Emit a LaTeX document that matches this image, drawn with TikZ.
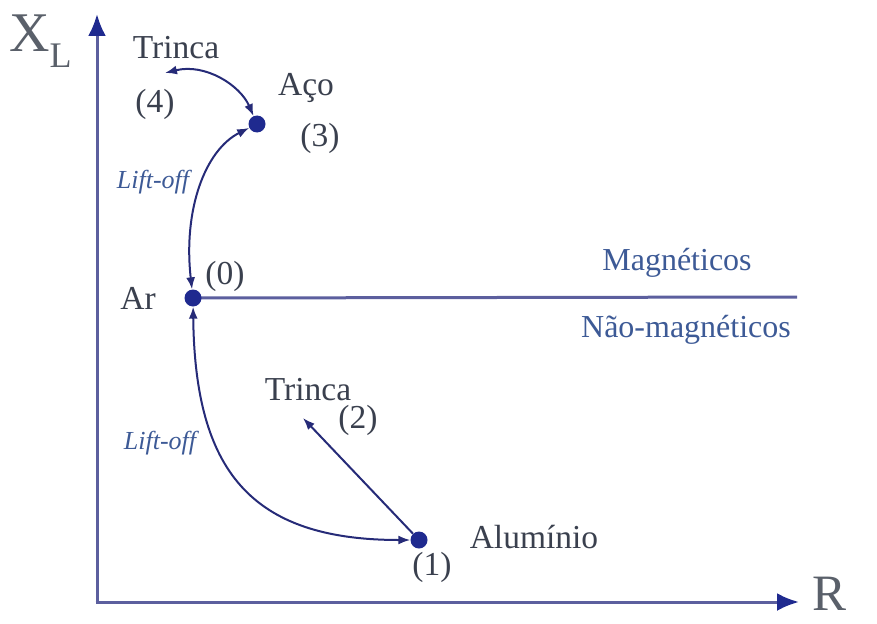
\documentclass[tikz,border=0pt]{standalone}
\usepackage{fontspec}
\setmainfont{Liberation Serif}
\usetikzlibrary{arrows.meta}
\definecolor{textdark}{HTML}{3A404E}
\definecolor{textblue}{HTML}{3D5A96}
\definecolor{axiscol}{HTML}{5C5F9E}
\definecolor{navy}{HTML}{262B78}
\definecolor{dotcol}{HTML}{1F2A8F}
\definecolor{axlabel}{HTML}{5A606A}
\tikzset{
  lbl/.style={inner sep=0pt, text=textdark, font=\fontsize{33.5}{38}\selectfont},
  bluelbl/.style={inner sep=0pt, text=textblue, font=\fontsize{32}{36}\selectfont},
  liftlbl/.style={inner sep=0pt, text=textblue, font=\fontsize{26}{30}\selectfont\itshape},
  axlbl/.style={inner sep=0pt, text=axlabel, font=\fontsize{56}{60}\selectfont},
  rlbl/.style={inner sep=0pt, text=axlabel, font=\fontsize{51}{56}\selectfont},
  dot/.style={circle, fill=dotcol, inner sep=0pt, minimum size=17pt},
  axisline/.style={draw=axiscol, line width=3pt},
  curve/.style={draw=navy, line width=2pt},
  axtip/.style={-{Latex[length=22pt,width=18pt,color=dotcol]}},
  tip/.style={-{Latex[length=12pt,width=9pt]}},
  tips/.style={{Latex[length=12pt,width=9pt]}-{Latex[length=12pt,width=9pt]}}
}
\begin{document}
\begin{tikzpicture}[x=1pt,y=-1pt]
\useasboundingbox (0,0) rectangle (877,623);
% axes
\coordinate (origin) at (97,602);
\coordinate (ytip) at (97,14);
\coordinate (xtip) at (799,602);
\draw[axisline, axtip] (origin) -- (ytip);
\draw[axisline, axtip] ([xshift=-1.5pt]origin) -- (xtip);
\node[axlbl, anchor=base west] (xl) at (9,52) {X\textsubscript{\fontsize{36}{40}\selectfont L}};
\node[rlbl] (r) at (829,594) {R};
% boundary line
\coordinate (arpt) at (193,298);
\coordinate (lineend) at (797,297);
\draw[draw=axiscol, line width=3pt] (arpt) -- (lineend);
% points
\node[dot] (ar) at (arpt) {};
\node[dot] (aco) at (257,124) {};
\node[dot] (al) at (419,540) {};
\coordinate (trincaTop) at (165,73);
\coordinate (trincaLow) at (303,418);
% curves
\draw[curve, tips] (ar) .. controls (183,210) and (205,150) .. (aco);
\draw[curve, tips] (trincaTop) .. controls (205,63) and (240,85) .. (aco);
\draw[curve, tips] (ar) .. controls (195,470) and (250,540) .. (al);
\draw[curve, tip] (al) -- (trincaLow);
% labels
\node[lbl] (t1) at (176,48) {Trinca};
\node[lbl] (n4) at (155,104) {(4)};
\node[lbl] (acol) at (306,88) {Aço};
\node[lbl] (n3) at (320,138) {(3)};
\node[liftlbl] (lift1) at (153,182) {Lift-off};
\node[lbl] (arl) at (138,298) {Ar};
\node[lbl] (n0) at (225,276) {(0)};
\node[bluelbl] (mag) at (677,263) {Magnéticos};
\node[bluelbl] (nmag) at (686,330) {Não-magnéticos};
\node[lbl] (t2) at (308,390) {Trinca};
\node[lbl] (n2) at (358,420) {(2)};
\node[liftlbl] (lift2) at (160,443) {Lift-off};
\node[lbl] (all) at (534,537) {Alumínio};
\node[lbl] (n1) at (432,567) {(1)};
\end{tikzpicture}
\end{document}
